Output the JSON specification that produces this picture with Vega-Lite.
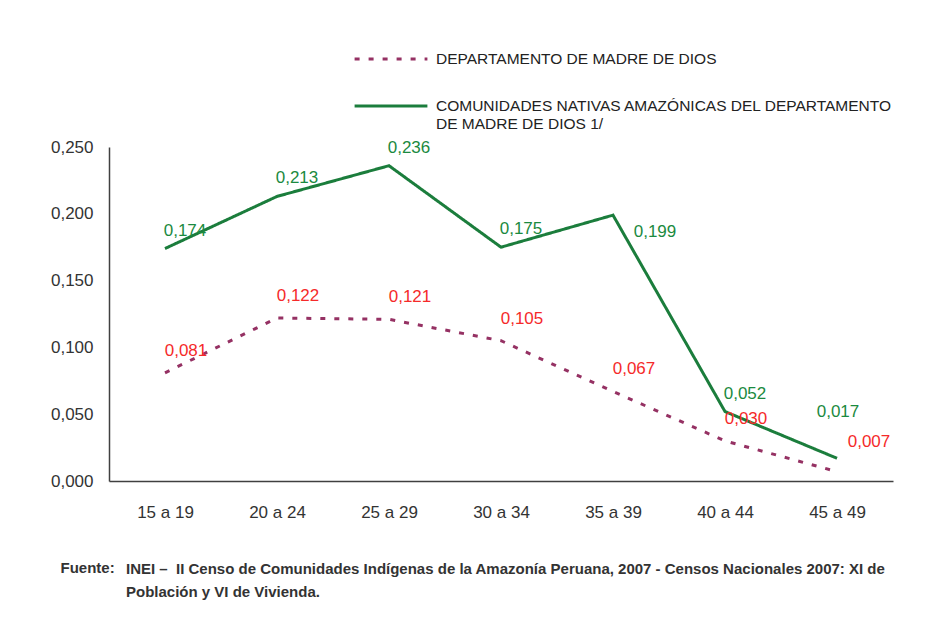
{
  "$schema": "https://vega.github.io/schema/vega-lite/v6.json",
  "width": 784,
  "height": 334,
  "autosize": {"type": "none"},
  "padding": {"left": 109, "top": 147, "right": 33, "bottom": 137},
  "background": "white",
  "config": {
    "locale": {"number": {"decimal": ",", "thousands": ".", "grouping": [3], "currency": ["", ""]}},
    "view": {"stroke": null},
    "font": "Liberation Sans, Arial, sans-serif"
  },
  "title": {
    "text": ["INEI –\u00a0\u00a0II Censo de Comunidades Indígenas de la Amazonía Peruana, 2007 - Censos Nacionales 2007: XI de", "Población y VI de Vivienda."],
    "orient": "bottom",
    "anchor": "start",
    "frame": "group",
    "dx": 17,
    "offset": -13,
    "fontSize": 15,
    "fontWeight": "bold",
    "color": "#333333",
    "lineHeight": 23,
    "font": "Liberation Sans, Arial, sans-serif"
  },
  "data": {
    "values": [
      {"grupo": "15 a 19", "serie": "DEPARTAMENTO DE MADRE DE DIOS", "valor": 0.081},
      {"grupo": "20 a 24", "serie": "DEPARTAMENTO DE MADRE DE DIOS", "valor": 0.122},
      {"grupo": "25 a 29", "serie": "DEPARTAMENTO DE MADRE DE DIOS", "valor": 0.121},
      {"grupo": "30 a 34", "serie": "DEPARTAMENTO DE MADRE DE DIOS", "valor": 0.105},
      {"grupo": "35 a 39", "serie": "DEPARTAMENTO DE MADRE DE DIOS", "valor": 0.067},
      {"grupo": "40 a 44", "serie": "DEPARTAMENTO DE MADRE DE DIOS", "valor": 0.030},
      {"grupo": "45 a 49", "serie": "DEPARTAMENTO DE MADRE DE DIOS", "valor": 0.007},
      {"grupo": "15 a 19", "serie": "COMUNIDADES NATIVAS AMAZÓNICAS DEL DEPARTAMENTO DE MADRE DE DIOS 1/", "valor": 0.174},
      {"grupo": "20 a 24", "serie": "COMUNIDADES NATIVAS AMAZÓNICAS DEL DEPARTAMENTO DE MADRE DE DIOS 1/", "valor": 0.213},
      {"grupo": "25 a 29", "serie": "COMUNIDADES NATIVAS AMAZÓNICAS DEL DEPARTAMENTO DE MADRE DE DIOS 1/", "valor": 0.236},
      {"grupo": "30 a 34", "serie": "COMUNIDADES NATIVAS AMAZÓNICAS DEL DEPARTAMENTO DE MADRE DE DIOS 1/", "valor": 0.175},
      {"grupo": "35 a 39", "serie": "COMUNIDADES NATIVAS AMAZÓNICAS DEL DEPARTAMENTO DE MADRE DE DIOS 1/", "valor": 0.199},
      {"grupo": "40 a 44", "serie": "COMUNIDADES NATIVAS AMAZÓNICAS DEL DEPARTAMENTO DE MADRE DE DIOS 1/", "valor": 0.052},
      {"grupo": "45 a 49", "serie": "COMUNIDADES NATIVAS AMAZÓNICAS DEL DEPARTAMENTO DE MADRE DE DIOS 1/", "valor": 0.017}
    ]
  },
  "encoding": {
    "x": {
      "field": "grupo", "type": "ordinal", "title": "Fuente:",
      "scale": {"paddingInner": 0, "paddingOuter": 0.5},
      "axis": {"labelAngle": 0, "ticks": false, "labelPadding": 23, "labelFontSize": 17, "labelColor": "#333333", "domainColor": "#404040", "domainWidth": 1.5,
        "titleX": -49, "titleY": 91, "titleAlign": "left", "titleBaseline": "alphabetic", "titleFontSize": 15, "titleFontWeight": "bold", "titleColor": "#333333"}
    },
    "y": {
      "field": "valor", "type": "quantitative", "title": null,
      "scale": {"domain": [0, 0.25], "nice": false},
      "axis": {"values": [0, 0.05, 0.1, 0.15, 0.2, 0.25], "format": ".3f", "grid": false, "ticks": false, "labelPadding": 16, "labelFontSize": 17, "labelColor": "#333333", "domainColor": "#404040", "domainWidth": 1.5}
    }
  },
  "layer": [
    {
      "mark": {"type": "line", "strokeWidth": 3},
      "encoding": {
        "color": {
          "field": "serie", "type": "nominal",
          "scale": {"domain": ["DEPARTAMENTO DE MADRE DE DIOS", "COMUNIDADES NATIVAS AMAZÓNICAS DEL DEPARTAMENTO DE MADRE DE DIOS 1/"], "range": ["#953163", "#1b7d3c"]},
          "legend": {
            "title": null,
            "orient": "none",
            "legendX": 244,
            "legendY": -126,
            "symbolType": "stroke",
            "symbolSize": 5300,
            "symbolStrokeWidth": 3,
            "labelFontSize": 15.5,
            "labelColor": "#222222",
            "labelOffset": 7,
            "labelLimit": 600,
            "rowPadding": 0,
            "labelExpr": "datum.label == 'DEPARTAMENTO DE MADRE DE DIOS' ? datum.label : ['COMUNIDADES NATIVAS AMAZÓNICAS DEL DEPARTAMENTO', 'DE MADRE DE DIOS 1/']"
          }
        },
        "strokeDash": {
          "field": "serie", "type": "nominal",
          "scale": {"domain": ["DEPARTAMENTO DE MADRE DE DIOS", "COMUNIDADES NATIVAS AMAZÓNICAS DEL DEPARTAMENTO DE MADRE DE DIOS 1/"], "range": [[5, 9], [1, 0]]},
          "legend": null
        }
      }
    },
    {
      "transform": [{"filter": "datum.serie == 'DEPARTAMENTO DE MADRE DE DIOS' && datum.grupo != '45 a 49'"}],
      "mark": {"type": "text", "dx": 21, "dy": -22, "fontSize": 17, "color": "#f52a2a"},
      "encoding": {"text": {"field": "valor", "type": "quantitative", "format": ".3f"}}
    },
    {
      "transform": [{"filter": "datum.serie == 'DEPARTAMENTO DE MADRE DE DIOS' && datum.grupo == '45 a 49'"}],
      "mark": {"type": "text", "dx": 32, "dy": -30, "fontSize": 17, "color": "#f52a2a"},
      "encoding": {"text": {"field": "valor", "type": "quantitative", "format": ".3f"}}
    },
    {
      "transform": [{"filter": "datum.serie != 'DEPARTAMENTO DE MADRE DE DIOS' && datum.grupo != '45 a 49' && datum.grupo != '35 a 39'"}],
      "mark": {"type": "text", "dx": 20, "dy": -18, "fontSize": 17, "color": "#1b8a40"},
      "encoding": {"text": {"field": "valor", "type": "quantitative", "format": ".3f"}}
    },
    {
      "transform": [{"filter": "datum.serie != 'DEPARTAMENTO DE MADRE DE DIOS' && datum.grupo == '35 a 39'"}],
      "mark": {"type": "text", "dx": 42, "dy": 17, "fontSize": 17, "color": "#1b8a40"},
      "encoding": {"text": {"field": "valor", "type": "quantitative", "format": ".3f"}}
    },
    {
      "transform": [{"filter": "datum.serie != 'DEPARTAMENTO DE MADRE DE DIOS' && datum.grupo == '45 a 49'"}],
      "mark": {"type": "text", "dx": 1, "dy": -46, "fontSize": 17, "color": "#1b8a40"},
      "encoding": {"text": {"field": "valor", "type": "quantitative", "format": ".3f"}}
    }
  ]
}
